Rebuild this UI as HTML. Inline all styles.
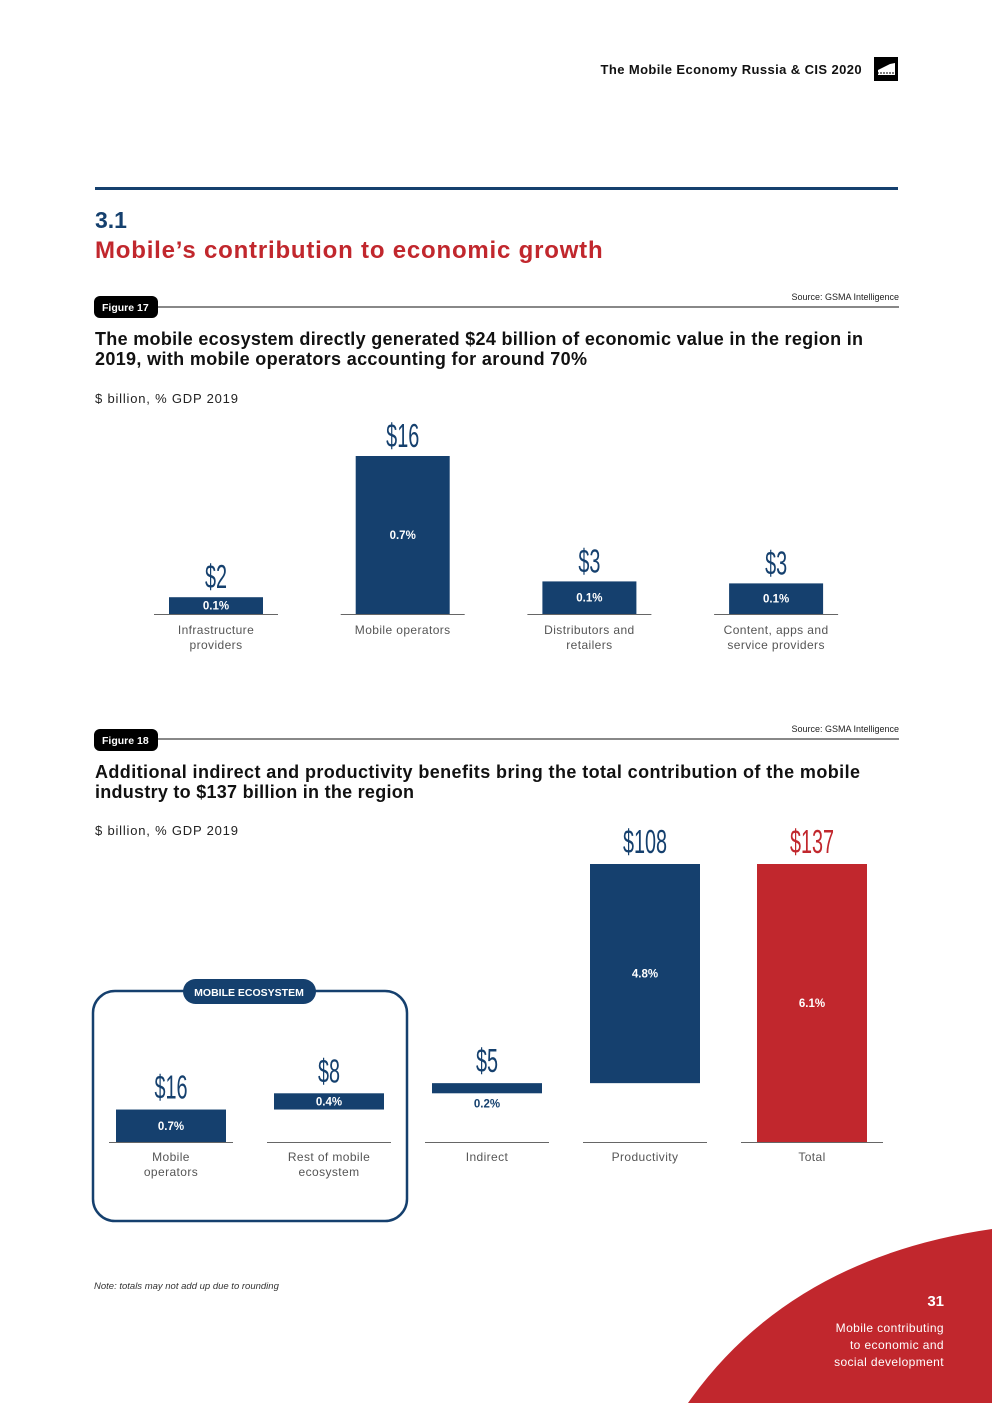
<!DOCTYPE html>
<html><head><meta charset="utf-8">
<style>
body{margin:0;background:#fff;}
svg{display:block;font-family:"Liberation Sans",sans-serif;}
.cond{font-family:"Liberation Sans Narrow","Liberation Sans",sans-serif;}
</style></head>
<body>
<svg id="page" width="992" height="1403" viewBox="0 0 992 1403" xmlns="http://www.w3.org/2000/svg">
<text x="862" y="74" text-anchor="end" font-size="13" font-weight="bold" fill="#111" letter-spacing="0.4">The Mobile Economy Russia &amp; CIS 2020</text>
<g><rect x="874" y="57" width="24" height="24" fill="#000"/><path d="M878 75 L878 70 L884 67 L890 64 L895 63 L895 75 Z" fill="#fff"/><line x1="877" y1="73" x2="896" y2="73" stroke="#000" stroke-dasharray="2 1"/></g>
<rect x="95" y="187" width="803" height="3" fill="#15406e"/>
<text x="95" y="228" font-size="23" font-weight="bold" fill="#15406e">3.1</text>
<text x="95" y="258" font-size="24" font-weight="bold" fill="#c1272d" letter-spacing="0.8">Mobile’s contribution to economic growth</text>

<!-- Figure 17 -->
<text x="899" y="300" text-anchor="end" font-size="9" fill="#222">Source: GSMA Intelligence</text>
<line x1="150" y1="307" x2="899" y2="307" stroke="#111" stroke-width="1"/>
<rect x="94" y="296" width="64" height="22" rx="6" fill="#000"/>
<text x="102" y="311" font-size="10.5" font-weight="bold" fill="#fff">Figure 17</text>
<text x="95" y="345" font-size="18" font-weight="bold" fill="#111" textLength="768" lengthAdjust="spacing">The mobile ecosystem directly generated $24 billion of economic value in the region in</text>
<text x="95" y="365" font-size="18" font-weight="bold" fill="#111" textLength="492" lengthAdjust="spacing">2019, with mobile operators accounting for around 70%</text>
<text x="95" y="403" font-size="13" fill="#222" letter-spacing="0.8">$ billion, % GDP 2019</text>
<g id="fig17"></g>

<!-- Figure 18 -->
<text x="899" y="732" text-anchor="end" font-size="9" fill="#222">Source: GSMA Intelligence</text>
<line x1="150" y1="739" x2="899" y2="739" stroke="#111" stroke-width="1"/>
<rect x="94" y="729" width="64" height="22" rx="6" fill="#000"/>
<text x="102" y="744" font-size="10.5" font-weight="bold" fill="#fff">Figure 18</text>
<text x="95" y="778" font-size="18" font-weight="bold" fill="#111" textLength="765" lengthAdjust="spacing">Additional indirect and productivity benefits bring the total contribution of the mobile</text>
<text x="95" y="798" font-size="18" font-weight="bold" fill="#111" textLength="319" lengthAdjust="spacing">industry to $137 billion in the region</text>
<text x="95" y="835" font-size="13" fill="#222" letter-spacing="0.8">$ billion, % GDP 2019</text>
<rect x="93" y="991" width="314" height="230" rx="22" fill="none" stroke="#15406e" stroke-width="2.5"/>
<rect x="183" y="979" width="133" height="25" rx="12.5" fill="#15406e"/>
<text x="249" y="996" text-anchor="middle" font-size="10.5" font-weight="bold" fill="#fff">MOBILE ECOSYSTEM</text>
<g id="fig18"></g>
<text x="94" y="1289" font-size="9.5" font-style="italic" fill="#333">Note: totals may not add up due to rounding</text>

<path d="M688 1403 Q790 1258 992 1229 L992 1403 Z" fill="#c1272d"/>
<text x="944" y="1306" text-anchor="end" font-size="15" font-weight="bold" fill="#fff">31</text>
<text x="944" y="1332" text-anchor="end" font-size="12" fill="#fff" letter-spacing="0.4">Mobile contributing</text>
<text x="944" y="1349" text-anchor="end" font-size="12" fill="#fff" letter-spacing="0.4">to economic and</text>
<text x="944" y="1366" text-anchor="end" font-size="12" fill="#fff" letter-spacing="0.4">social development</text>
</svg>
<script>
// Figure 17 data
const f17Categories = [["Infrastructure","providers"],["Mobile operators"],["Distributors and","retailers"],["Content, apps and","service providers"]];
const f17Values = [1.7, 16, 3.3, 3.1];
const f17ValueLabels = ["$2","$16","$3","$3"];
const f17PctLabels = ["0.1%","0.7%","0.1%","0.1%"];
// Figure 18 data
const f18Categories = [["Mobile","operators"],["Rest of mobile","ecosystem"],["Indirect"],["Productivity"],["Total"]];
const f18Values = [16, 8, 5, 108, 137];
const f18IsTotal = [false, false, false, false, true];
const f18ValueLabels = ["$16","$8","$5","$108","$137"];
const f18PctLabels = ["0.7%","0.4%","0.2%","4.8%","6.1%"];

const NS = "http://www.w3.org/2000/svg";
const BLUE = "#15406e", RED = "#c1272d";
function mk(tag, attrs, parent){const e=document.createElementNS(NS,tag);for(const k in attrs)e.setAttribute(k,attrs[k]);parent.appendChild(e);return e;}

// Fig 17 axes
const f17Base = 614, f17Scale = 158/16;
const f17y = v => f17Base - v*f17Scale;
const f17x = i => 216 + i*186.7;
const g17 = document.getElementById('fig17');
f17Values.forEach((v,i)=>{
  const cx=f17x(i), top=f17y(v);
  const r=mk('rect',{x:cx-47,y:top,width:94,height:f17Base-top,fill:BLUE},g17);
  
  
  const l=mk('line',{x1:cx-62,y1:f17Base+0.5,x2:cx+62,y2:f17Base+0.5,stroke:'#666','stroke-width':1},g17);
  
  
  const vt=mk('text',{x:cx,y:top-9,'text-anchor':'middle','font-size':33,fill:BLUE,'class':'cond',transform:`translate(${cx},0) scale(0.6,1) translate(${-cx},0)`},g17);
  vt.textContent=f17ValueLabels[i];
  
  
  const pt=mk('text',{x:cx,y:(top+f17Base)/2+4,'text-anchor':'middle','font-size':11.5,'font-weight':'bold',fill:'#fff'},g17);
  pt.textContent=f17PctLabels[i];
  
  
  f17Categories[i].forEach((s,j)=>{
    const t=mk('text',{x:cx,y:634+j*15,'text-anchor':'middle','font-size':12,fill:'#555','letter-spacing':0.4},g17);
    t.textContent=s;
    
    
  });
});

// Fig 18 waterfall axes
const f18Base = 1142, f18Scale = 278/137;
const f18y = v => f18Base - v*f18Scale;
const f18x = i => [171,329,487,645,812][i];
const g18 = document.getElementById('fig18');
let cum = 0;
f18Values.forEach((v,i)=>{
  const cx=f18x(i);
  const start = f18IsTotal[i] ? 0 : cum;
  const end = f18IsTotal[i] ? v : cum+v;
  if(!f18IsTotal[i]) cum += v;
  const top=f18y(end), bot=f18y(start);
  const w = 110;
  const col = f18IsTotal[i] ? RED : BLUE;
  const r=mk('rect',{x:cx-w/2,y:top,width:w,height:bot-top,fill:col},g18);
  
  
  const half = i===4 ? 71 : 62;
  const l=mk('line',{x1:cx-half,y1:f18Base+0.5,x2:cx+half,y2:f18Base+0.5,stroke:'#666','stroke-width':1},g18);
  
  
  const vt=mk('text',{x:cx,y:top-11,'text-anchor':'middle','font-size':33,fill:col,'class':'cond',transform:`translate(${cx},0) scale(0.6,1) translate(${-cx},0)`},g18);
  vt.textContent=f18ValueLabels[i];
  
  
  const h = bot-top;
  const inside = h >= 14;
  const py = inside ? (top+bot)/2+4 : bot+14;
  const pt=mk('text',{x:cx,y:py,'text-anchor':'middle','font-size':11.5,'font-weight':'bold',fill: inside?'#fff':BLUE},g18);
  pt.textContent=f18PctLabels[i];
  
  
  f18Categories[i].forEach((s,j)=>{
    const t=mk('text',{x:cx,y:1161+j*15,'text-anchor':'middle','font-size':12,fill:'#555','letter-spacing':0.4},g18);
    t.textContent=s;
    
    
  });
});
</script>
</body></html>
